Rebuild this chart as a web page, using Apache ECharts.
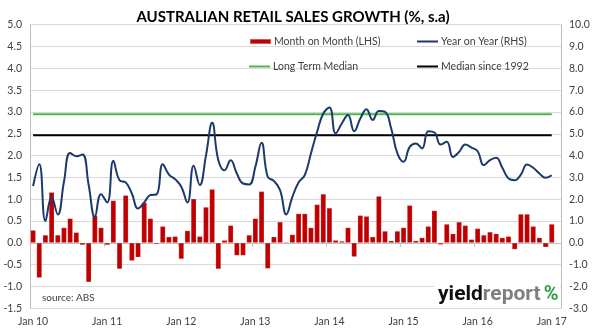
<!DOCTYPE html>
<html>
<head>
<meta charset="utf-8">
<script src="https://cdn.jsdelivr.net/npm/echarts@6/dist/echarts.min.js"></script>
<style>html,body{margin:0;padding:0;background:#fff;}#c{width:602px;height:330px;}</style>
</head>
<body>
<div id="c"></div>
<script>
var monthNames = ['Jan','Feb','Mar','Apr','May','Jun','Jul','Aug','Sep','Oct','Nov','Dec'];
var years = ['10','11','12','13','14','15','16','17'];
var categories = [];
years.forEach(function (y) { monthNames.forEach(function (m) { categories.push(m + ' ' + y); }); });
categories = categories.slice(0, 86); // Jan 10 .. Feb 17 (last slot empty)

var momValues = [0.29,-0.8,0.18,1.16,0.18,0.35,0.56,0.24,-0.05,-0.9,
0.63,0.35,-0.05,0.97,-0.6,1.09,-0.41,-0.33,0.92,0.56,
-0.03,0.38,0.14,0.15,-0.37,0.28,1.01,0.15,0.82,1.23,
-0.6,0.06,0.4,-0.29,-0.29,0.18,0.56,1.18,-0.59,0.14,
0.48,0.02,0.19,0.67,0.67,0.35,0.88,1.12,0.8,0.06,
0.04,0.35,-0.32,0.63,0.61,0.14,1.07,0.27,0.05,0.27,
0.35,0.86,0.05,0.12,0.38,0.74,-0.04,0.43,0.21,0.48,
0.4,0.08,0.33,0.18,0.25,0.21,0.12,0.15,-0.15,0.66,
0.66,0.38,0.12,-0.1,0.43];

var yoyValues = [2.6,3.6,1.0,2.1,1.3,2.8,4.12,3.97,4.05,2.65,
1.19,2.23,1.85,3.76,2.87,2.77,2.26,1.57,1.85,2.19,
2.22,3.6,3.13,2.92,2.57,1.85,3.53,2.65,4.0,5.5,
3.79,3.33,3.79,3.18,2.72,2.68,3.49,4.59,3.03,2.84,
2.42,1.3,2.11,2.77,3.1,4.1,5.09,5.93,6.21,5.02,
5.47,5.86,5.12,5.7,6.13,5.63,6.04,6.0,5.24,4.1,
3.72,4.4,4.56,4.33,5.12,5.06,4.51,4.63,3.94,4.17,
4.51,4.37,4.2,3.56,3.79,3.9,3.44,2.95,2.87,3.13,
3.59,3.44,3.18,2.98,3.1];

var longTermMedian = 5.9;
var medianSince1992 = 4.93;
var leftTicks = {min: -1.5, max: 5, interval: 0.5};
var rightTicks = {min: -3, max: 10, interval: 1};

var ltmData = yoyValues.map(function () { return longTermMedian; });
var m92Data = yoyValues.map(function () { return medianSince1992; });

var FONT = 'Lato';
var chart = echarts.init(document.getElementById('c'), null, {renderer: 'canvas'});

function legendAt(name, left, top, w, h) {
  return {
    data: [name], left: left, top: top, orient: 'horizontal',
    icon: 'rect', itemWidth: w, itemHeight: h, itemGap: 0, padding: 0,
    selectedMode: false,
    textStyle: {fontFamily: FONT, fontSize: 10.5, color: '#404040', padding: [0, 0, 0, -2]}
  };
}

chart.setOption({
  animation: false,
  backgroundColor: '#ffffff',
  title: {
    text: 'AUSTRALIAN RETAIL SALES GROWTH (%, s.a)',
    left: 288, top: 5, textAlign: 'center',
    textStyle: {fontFamily: FONT, fontWeight: 'bold', fontSize: 15, color: '#000'}
  },
  legend: [
    legendAt('Month on Month (LHS)', 249, 36, 21, 5),
    legendAt('Year on Year (RHS)', 417, 36, 21, 2),
    legendAt('Long Term Median', 249, 61, 21, 2),
    legendAt('Median since 1992', 417, 61, 21, 2)
  ],
  grid: {left: 30, right: 41, top: 24.7, bottom: 21.7, containLabel: false},
  xAxis: {
    type: 'category',
    data: categories,
    boundaryGap: true,
    axisLine: {show: true, lineStyle: {color: '#bfbfbf', width: 1}},
    axisTick: {show: true, length: 4, lineStyle: {color: '#bfbfbf'},
      interval: function (i) { return i % 12 === 0; }},
    axisLabel: {
      interval: function (i) { return i % 12 === 0; },
      fontFamily: FONT, fontSize: 10.5, color: '#404040', margin: 8
    },
    splitLine: {show: false}
  },
  yAxis: [
    {
      type: 'value', min: leftTicks.min, max: leftTicks.max, interval: leftTicks.interval,
      position: 'left',
      axisLine: {show: true, lineStyle: {color: '#bfbfbf'}},
      axisTick: {show: false},
      axisLabel: {formatter: function (v) { return v.toFixed(1); },
        fontFamily: FONT, fontSize: 10.5, color: '#404040', margin: 8},
      splitLine: {show: true, lineStyle: {color: '#d9d9d9', width: 1}}
    },
    {
      type: 'value', min: rightTicks.min, max: rightTicks.max, interval: rightTicks.interval,
      position: 'right',
      axisLine: {show: true, lineStyle: {color: '#bfbfbf'}},
      axisTick: {show: false},
      axisLabel: {formatter: function (v) { return v.toFixed(1); },
        fontFamily: FONT, fontSize: 10.5, color: '#404040', margin: 8},
      splitLine: {show: false}
    }
  ],
  series: [
    {
      name: 'Month on Month (LHS)', type: 'bar', yAxisIndex: 0, data: momValues,
      barCategoryGap: '14%',
      itemStyle: {color: '#c00000', borderColor: 'rgba(255,255,255,0.35)', borderWidth: 0.5}
    },
    {
      name: 'Year on Year (RHS)', type: 'line', yAxisIndex: 1, data: yoyValues,
      smooth: 0.45, symbol: 'none', showSymbol: false,
      lineStyle: {color: '#1b3a6b', width: 2}, itemStyle: {color: '#1b3a6b'}, z: 4
    },
    {
      name: 'Long Term Median', type: 'line', yAxisIndex: 1, data: ltmData,
      symbol: 'none', showSymbol: false,
      lineStyle: {color: '#4cb848', width: 2}, itemStyle: {color: '#4cb848'}, z: 3
    },
    {
      name: 'Median since 1992', type: 'line', yAxisIndex: 1, data: m92Data,
      symbol: 'none', showSymbol: false,
      lineStyle: {color: '#000000', width: 2}, itemStyle: {color: '#000000'}, z: 3
    }
  ],
  graphic: [
    {type: 'text', left: 42, top: 293,
      style: {text: 'source: ABS', fill: '#404040', font: '10px ' + FONT}},
    {type: 'rect', shape: {x: 434, y: 280, width: 126, height: 27}, style: {fill: '#ffffff'}, z: 10},
    {type: 'text', x: 438, y: 284, z: 11,
      style: {
        rich: {
          a: {fontFamily: 'Roboto', fontWeight: 'bold', fontSize: 21, fill: '#111111'},
          b: {fontFamily: 'Roboto', fontWeight: 'bold', fontSize: 21, fill: '#7f7f7f'},
          c: {fontFamily: 'Roboto', fontWeight: 'bold', fontSize: 20, fill: '#2e9e44', padding: [0, 0, 0, 3]}
        },
        text: '{a|yield}{b|report}{c|%}'
      }}
  ]
});
</script>
</body>
</html>
